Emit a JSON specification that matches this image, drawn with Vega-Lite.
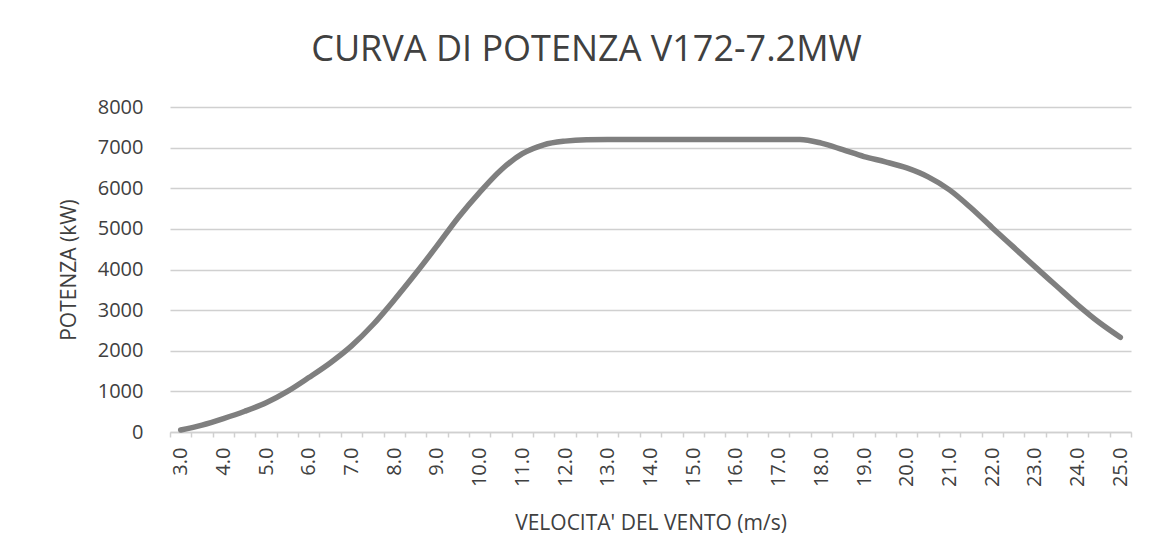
{
  "$schema": "https://vega.github.io/schema/vega-lite/v6.json",
  "width": 961,
  "height": 325,
  "autosize": {"type": "none"},
  "padding": {"left": 170, "top": 107, "right": 27, "bottom": 124},
  "background": "white",
  "title": {
    "text": "CURVA DI POTENZA V172-7.2MW",
    "font": "Open Sans",
    "fontSize": 36,
    "fontWeight": "normal",
    "color": "#404040",
    "anchor": "middle",
    "frame": "group",
    "baseline": "alphabetic",
    "offset": 0,
    "dx": -64
  },
  "data": {
    "values": [
      {"velocita": 3.0, "potenza": 50},
      {"velocita": 3.5, "potenza": 170},
      {"velocita": 4.0, "potenza": 330},
      {"velocita": 4.5, "potenza": 510},
      {"velocita": 5.0, "potenza": 720},
      {"velocita": 5.5, "potenza": 1000},
      {"velocita": 6.0, "potenza": 1340},
      {"velocita": 6.5, "potenza": 1700},
      {"velocita": 7.0, "potenza": 2120},
      {"velocita": 7.5, "potenza": 2640},
      {"velocita": 8.0, "potenza": 3250},
      {"velocita": 8.5, "potenza": 3900},
      {"velocita": 9.0, "potenza": 4580},
      {"velocita": 9.5, "potenza": 5280},
      {"velocita": 10.0, "potenza": 5900},
      {"velocita": 10.5, "potenza": 6450},
      {"velocita": 11.0, "potenza": 6850},
      {"velocita": 11.5, "potenza": 7070},
      {"velocita": 12.0, "potenza": 7160},
      {"velocita": 12.5, "potenza": 7195},
      {"velocita": 13.0, "potenza": 7200},
      {"velocita": 13.5, "potenza": 7200},
      {"velocita": 14.0, "potenza": 7200},
      {"velocita": 14.5, "potenza": 7200},
      {"velocita": 15.0, "potenza": 7200},
      {"velocita": 15.5, "potenza": 7200},
      {"velocita": 16.0, "potenza": 7200},
      {"velocita": 16.5, "potenza": 7200},
      {"velocita": 17.0, "potenza": 7200},
      {"velocita": 17.5, "potenza": 7200},
      {"velocita": 18.0, "potenza": 7110},
      {"velocita": 18.5, "potenza": 6950},
      {"velocita": 19.0, "potenza": 6780},
      {"velocita": 19.5, "potenza": 6650},
      {"velocita": 20.0, "potenza": 6500},
      {"velocita": 20.5, "potenza": 6280},
      {"velocita": 21.0, "potenza": 5960},
      {"velocita": 21.5, "potenza": 5520},
      {"velocita": 22.0, "potenza": 5030},
      {"velocita": 22.5, "potenza": 4550},
      {"velocita": 23.0, "potenza": 4070},
      {"velocita": 23.5, "potenza": 3600},
      {"velocita": 24.0, "potenza": 3130},
      {"velocita": 24.5, "potenza": 2700},
      {"velocita": 25.0, "potenza": 2330}
    ]
  },
  "mark": {"type": "line", "color": "#7f7f7f", "strokeWidth": 5.5, "interpolate": "monotone", "strokeCap": "round"},
  "encoding": {
    "x": {
      "field": "velocita",
      "type": "quantitative",
      "scale": {"domain": [2.75, 25.25], "nice": false, "zero": false},
      "axis": {
        "title": "VELOCITA' DEL VENTO (m/s)",
        "values": [2.75, 3, 3.25, 3.75, 4, 4.25, 4.75, 5, 5.25, 5.75, 6, 6.25, 6.75, 7, 7.25, 7.75, 8, 8.25, 8.75, 9, 9.25, 9.75, 10, 10.25, 10.75, 11, 11.25, 11.75, 12, 12.25, 12.75, 13, 13.25, 13.75, 14, 14.25, 14.75, 15, 15.25, 15.75, 16, 16.25, 16.75, 17, 17.25, 17.75, 18, 18.25, 18.75, 19, 19.25, 19.75, 20, 20.25, 20.75, 21, 21.25, 21.75, 22, 22.25, 22.75, 23, 23.25, 23.75, 24, 24.25, 24.75, 25, 25.25],
        "labelExpr": "datum.value % 1 === 0 ? format(datum.value, '.1f') : ''",
        "labelAngle": -90,
        "labelOverlap": false,
        "labelBound": false,
        "labelFlush": false,
        "labelFont": "Open Sans",
        "labelFontSize": 20,
        "labelColor": "#404040",
        "labelPadding": 10,
        "tickSize": 5,
        "tickWidth": 1.5,
        "tickColor": "#d0d0d0",
        "tickOpacity": {"condition": {"test": "datum.value % 1 === 0", "value": 0}, "value": 1},
        "domainColor": "#d0d0d0",
        "domainWidth": 1.5,
        "grid": false,
        "titleFont": "Open Sans",
        "titleFontSize": 21,
        "titleFontWeight": "normal",
        "titleColor": "#404040",
        "titlePadding": 26
      }
    },
    "y": {
      "field": "potenza",
      "type": "quantitative",
      "scale": {"domain": [0, 8000], "nice": false},
      "axis": {
        "title": "POTENZA (kW)",
        "values": [0, 1000, 2000, 3000, 4000, 5000, 6000, 7000, 8000],
        "format": "d",
        "domain": false,
        "ticks": false,
        "tickSize": 0,
        "labelPadding": 27,
        "labelFont": "Open Sans",
        "labelFontSize": 20,
        "labelColor": "#404040",
        "grid": true,
        "gridColor": "#d0d0d0",
        "gridWidth": 1.5,
        "titleFont": "Open Sans",
        "titleFontSize": 21,
        "titleFontWeight": "normal",
        "titleColor": "#404040",
        "titlePadding": 18
      }
    }
  },
  "config": {"view": {"stroke": null}}
}
